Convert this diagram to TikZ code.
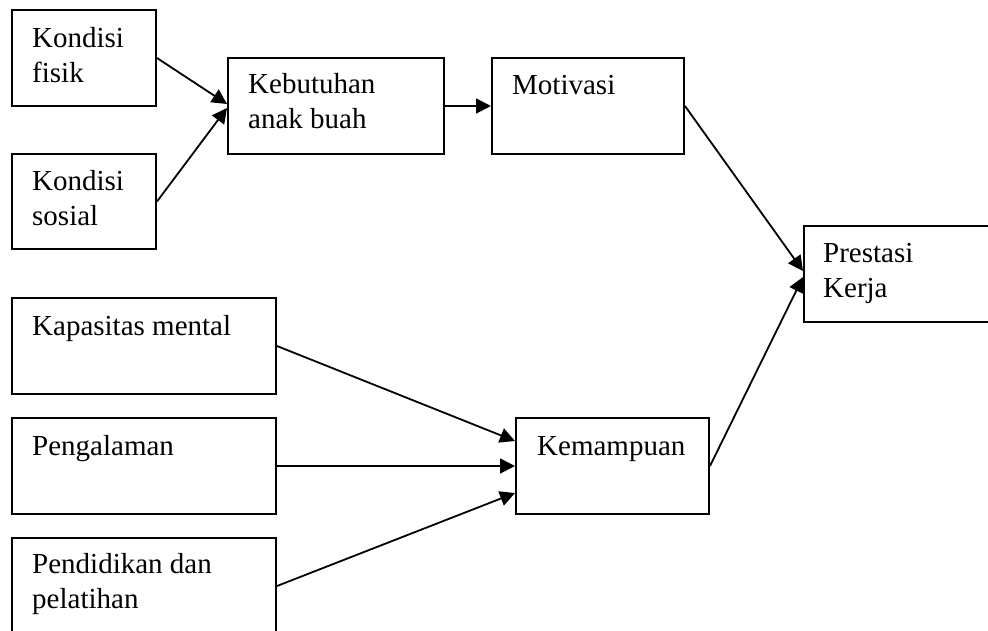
\documentclass[tikz,border=0pt]{standalone}
\usepackage{fontspec}
\setmainfont{Liberation Serif}
\usetikzlibrary{arrows.meta}

\begin{document}
\begin{tikzpicture}[x=1pt,y=-1pt,
  box/.style={draw,line width=2pt,anchor=north west,inner sep=0pt,minimum height=96pt},
  txt/.style={anchor=base west,inner sep=0pt,align=left,font=\fontsize{29}{35}\selectfont},
  conn/.style={line width=1.8pt,-{Triangle[length=15pt,width=15pt]}}]
\useasboundingbox (0,0) rectangle (988,630);
\clip (0,0) rectangle (988,630);

% Kondisi -> kebutuhan -> motivasi (upper row)
% (two-line texts sit on their last line, hence 37+35)
\node[box,minimum width=144pt] (fisik) at (11,9) {};
\node[txt] (fisik-t) at ([shift={(21,73)}]fisik.north west) {Kondisi\\fisik};
\node[box,minimum width=144pt,minimum height=95pt] (sosial) at (11,153) {};
\node[txt] (sosial-t) at ([shift={(21,72)}]sosial.north west) {Kondisi\\sosial};
\node[box,minimum width=216pt] (kebutuhan) at (227,57) {};
\node[txt] (kebutuhan-t) at ([shift={(21,71)}]kebutuhan.north west) {Kebutuhan\\anak buah};
\node[box,minimum width=192pt] (motivasi) at (491,57) {};
\node[txt] (motivasi-t) at ([shift={(21,37)}]motivasi.north west) {Motivasi};

% Result (right, cut by the page edge)
\node[box,minimum width=192pt] (prestasi) at (803,225) {};
\node[txt] (prestasi-t) at ([shift={(20,72)}]prestasi.north west) {Prestasi\\Kerja};

% Kapasitas, pengalaman, pendidikan -> kemampuan (lower part)
\node[box,minimum width=264pt] (kapasitas) at (11,297) {};
\node[txt] (kapasitas-t) at ([shift={(21,38)}]kapasitas.north west) {Kapasitas mental};
\node[box,minimum width=264pt] (pengalaman) at (11,417) {};
\node[txt] (pengalaman-t) at ([shift={(21,38)}]pengalaman.north west) {Pengalaman};
\node[box,minimum width=264pt] (pendidikan) at (11,537) {};
\node[txt] (pendidikan-t) at ([shift={(21,71)}]pendidikan.north west) {Pendidikan dan\\pelatihan};
\node[box,minimum width=193pt] (kemampuan) at (515,417) {};
\node[txt] (kemampuan-t) at ([shift={(22,38)}]kemampuan.north west) {Kemampuan};

% Connectors
\draw[conn] (fisik.east) -- ([yshift=2pt]kebutuhan.west);
\draw[conn] (sosial.east) -- ([yshift=-2pt]kebutuhan.west);
\draw[conn] (kebutuhan.east) -- (motivasi.west);
\draw[conn] (motivasi.east) -- ([yshift=3pt]prestasi.west);
\draw[conn] (kemampuan.east) -- ([yshift=-3pt]prestasi.west);
\draw[conn] (kapasitas.east) -- ([yshift=25pt]kemampuan.west);
\draw[conn] (pengalaman.east) -- (kemampuan.west);
\draw[conn] (pendidikan.east) -- ([yshift=-27pt]kemampuan.west);
\end{tikzpicture}
\end{document}
